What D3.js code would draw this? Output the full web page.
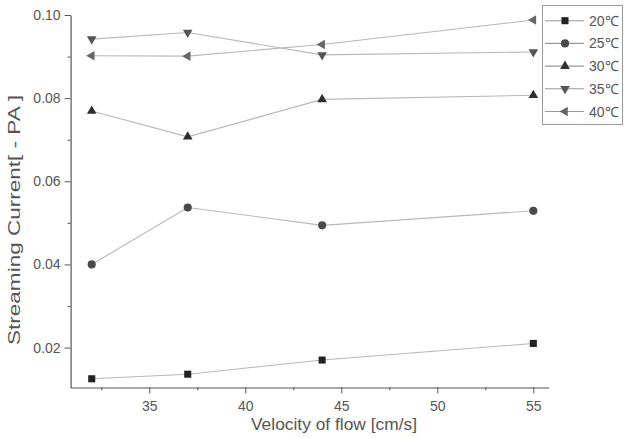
<!DOCTYPE html>
<html><head><meta charset="utf-8">
<script src="https://cdn.jsdelivr.net/npm/d3@7"></script>
<style>
body{margin:0;background:#fff;}
text{font-family:"Liberation Sans",Arial,sans-serif;}
</style></head>
<body>
<svg id="c" width="626" height="438"></svg>
<script>
const velocities = [32, 37, 44, 55];
const seriesNames = ["20℃", "25℃", "30℃", "35℃", "40℃"];
const s20 = [0.0125, 0.0136, 0.0170, 0.0210];
const s25 = [0.0400, 0.0537, 0.0494, 0.0529];
const s30 = [0.0769, 0.0707, 0.0797, 0.0807];
const s35 = [0.0942, 0.0958, 0.0904, 0.0911];
const s40 = [0.0902, 0.0901, 0.0929, 0.0988];
const xTicks = [35, 40, 45, 50, 55];
const xMinor = [32.5, 37.5, 42.5, 47.5, 52.5];
const yTicks = [0.02, 0.04, 0.06, 0.08, 0.10];
const yMinor = [0.03, 0.05, 0.07, 0.09];

const allSeries = [s20, s25, s30, s35, s40];
const shapes = ["square", "circle", "up", "down", "left"];
const markColors = ["#222", "#4a4a4a", "#2e2e2e", "#555", "#666"];

const svg = d3.select("#c");
const x = d3.scaleLinear().domain([30.9, 55.8]).range([70.6, 548.7]);
const y = d3.scaleLinear().domain([0.0104, 0.10]).range([387.5, 15]);

const axisColor = "#555";
const gx = svg.append("g").attr("transform", `translate(0,${y.range()[0]})`);
gx.call(d3.axisBottom(x).tickValues(xTicks).tickSize(6).tickSizeOuter(0).tickFormat(d3.format("d")));
gx.append("g").call(d3.axisBottom(x).tickValues(xMinor).tickSize(3).tickSizeOuter(0).tickFormat(""))
  .select(".domain").remove();
const gy = svg.append("g").attr("transform", `translate(${x.range()[0]},0)`);
gy.call(d3.axisLeft(y).tickValues(yTicks).tickSize(6).tickSizeOuter(0).tickFormat(d3.format(".2f")));
gy.append("g").call(d3.axisLeft(y).tickValues(yMinor).tickSize(3).tickSizeOuter(0).tickFormat(""))
  .select(".domain").remove();

svg.selectAll(".domain").attr("stroke", axisColor).attr("stroke-width", 1.2);
svg.selectAll(".tick line").attr("stroke", axisColor).attr("stroke-width", 1);
svg.selectAll(".tick text").attr("fill", "#555").style("font-size", "14px").style("font-family", "'Liberation Sans',Arial,sans-serif");
gx.selectAll(".tick text").attr("dy", "1.0em");
gy.selectAll(".tick text").attr("x", -10);

svg.append("text").attr("x", 334).attr("y", 430).attr("text-anchor", "middle")
  .attr("fill", "#555").style("font-size", "17px")
  .attr("textLength", 166).attr("lengthAdjust", "spacingAndGlyphs")
  .text("Velocity of flow [cm/s]");
svg.append("text").attr("transform", "translate(20,220) rotate(-90)").attr("text-anchor", "middle")
  .attr("fill", "#555").style("font-size", "17px")
  .attr("textLength", 250).attr("lengthAdjust", "spacingAndGlyphs")
  .text("Streaming Current[ - PA ]");

function symbolPath(shape) {
  if (shape === "square") return d3.symbol(d3.symbolSquare, 50)();
  if (shape === "circle") return d3.symbol(d3.symbolCircle, 52)();
  return d3.symbol(d3.symbolTriangle, 40)();
}
function rot(shape) {
  return shape === "down" ? 180 : shape === "left" ? -90 : 0;
}

const line = d3.line().x((d, i) => x(velocities[i])).y(d => y(d));
allSeries.forEach((vals) => {
  svg.append("path").datum(vals).attr("d", line).attr("fill", "none")
    .attr("stroke", "#b8b8b8").attr("stroke-width", 1.1);
});
allSeries.forEach((vals, k) => {
  svg.selectAll(null).data(vals).enter().append("path")
    .attr("d", symbolPath(shapes[k]))
    .attr("transform", (d, i) => `translate(${x(velocities[i])},${y(d)}) rotate(${rot(shapes[k])})`)
    .attr("fill", markColors[k]);
});

const lg = svg.append("g");
lg.append("rect").attr("x", 542.5).attr("y", 5.5).attr("width", 80).attr("height", 119)
  .attr("fill", "#fff").attr("stroke", "#999").attr("stroke-width", 1);
seriesNames.forEach((name, k) => {
  const yy = 20.7 + k * 22.7;
  lg.append("line").attr("x1", 545).attr("x2", 584).attr("y1", yy).attr("y2", yy)
    .attr("stroke", "#999").attr("stroke-width", 1.1);
  lg.append("path").attr("d", symbolPath(shapes[k]))
    .attr("transform", `translate(565,${yy}) rotate(${rot(shapes[k])})`).attr("fill", markColors[k]);
  lg.append("text").attr("x", 589).attr("y", yy + 5).attr("fill", "#555")
    .style("font-size", "14px").text(name);
});
</script>
</body></html>
